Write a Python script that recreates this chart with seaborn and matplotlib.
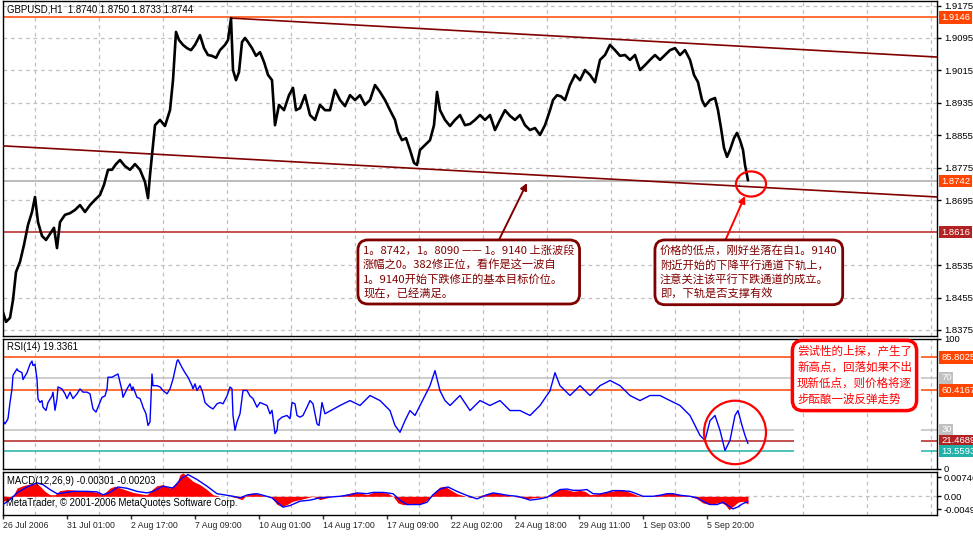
import matplotlib
matplotlib.use("Agg")
import matplotlib.pyplot as plt
from matplotlib.patches import Ellipse
import pandas as pd
import seaborn as sns

# ---------------- data ----------------
price_bar = [3,6,10,13,16,20,24,28,32,35,38,42,46,50,54,57,60,65,70,75,80,85,90,95,100,104,108,112,116,120,
             125,130,135,140,145,148,150,152,155,160,165,170,173,176,179,183,187,191,195,200,204,208,212,216,220,225,228,231,233,236,
             239,242,245,248,252,256,260,264,268,272,275,279,284,289,293,296,300,305,310,315,320,325,330,335,340,345,350,355,360,365,
             370,375,380,385,390,395,398,402,406,410,414,417,420,425,430,434,437,440,445,450,455,460,465,470,475,480,485,490,495,500,
             505,510,515,520,525,530,535,540,545,550,553,557,561,565,570,575,580,585,590,595,600,605,610,615,620,625,630,635,640,645,
             650,655,660,665,670,675,680,685,690,694,698,702,705,710,715,718,721,724,727,730,734,737,740,743,745,747,748]
price_close = [1.8419,1.8395,1.8405,1.8449,1.8518,1.8543,1.8585,1.8634,1.8666,1.8703,
               1.8641,1.8607,1.8597,1.8612,1.8627,1.8577,1.8641,1.8659,1.8663,1.8671,
               1.8683,1.8666,1.8683,1.8696,1.8708,1.8733,1.8770,1.8770,1.8784,1.8794,
               1.8779,1.8770,1.8784,1.8770,1.8740,1.8700,1.8757,1.8807,1.8880,1.8893,
               1.8878,1.8917,1.8991,1.9110,1.9090,1.9078,1.9070,1.9065,1.9078,1.9102,
               1.9070,1.9053,1.9051,1.9046,1.9065,1.9078,1.9090,1.9144,1.9016,1.8991,
               1.9011,1.9085,1.9095,1.9085,1.9070,1.9051,1.9060,1.9036,1.9004,1.8991,
               1.8880,1.8930,1.8917,1.8954,1.8972,1.8917,1.8922,1.8954,1.8905,1.8893,
               1.8930,1.8917,1.8917,1.8967,1.8942,1.8927,1.8954,1.8942,1.8954,1.8930,
               1.8942,1.8979,1.8962,1.8942,1.8917,1.8893,1.8863,1.8843,1.8848,1.8819,
               1.8787,1.8782,1.8819,1.8831,1.8843,1.8880,1.8962,1.8917,1.8893,1.8878,
               1.8893,1.8905,1.8880,1.8883,1.8893,1.8905,1.8893,1.8905,1.8868,1.8893,
               1.8917,1.8903,1.8893,1.8905,1.8880,1.8868,1.8873,1.8856,1.8880,1.8917,
               1.8942,1.8954,1.8951,1.8942,1.8979,1.9004,1.8991,1.9016,1.9004,1.8986,
               1.9041,1.9053,1.9078,1.9065,1.9051,1.9053,1.9041,1.9053,1.9016,1.9028,
               1.9041,1.9053,1.9041,1.9053,1.9065,1.9070,1.9053,1.9065,1.9041,1.9004,
               1.8986,1.8942,1.8927,1.8942,1.8947,1.8917,1.8873,1.8824,1.8802,1.8819,
               1.8848,1.8861,1.8843,1.8819,1.8782,1.8757,1.8744]

rsi_bar = [3,5,8,10,12,13,17,18,22,23,27,30,32,33,35,37,38,40,42,43,46,48,52,53,55,57,58,62,65,67,
           70,73,77,80,83,87,90,93,96,98,102,105,107,108,112,115,118,120,122,123,127,130,132,133,137,140,142,143,146,148,
           150,152,153,157,160,163,167,170,173,177,178,182,185,188,192,193,195,197,200,202,203,205,208,210,213,217,220,223,227,230,
           232,233,235,237,240,243,247,250,253,257,260,263,267,270,272,275,277,278,282,287,290,292,295,297,300,303,307,310,313,317,
           319,322,325,328,340,350,360,370,380,390,395,400,405,410,415,420,430,435,440,445,450,460,470,480,
           490,500,510,520,530,540,550,555,560,570,580,590,600,610,620,630,640,650,660,670,
           680,690,695,700,705,710,715,720,725,730,735,738,742,745,748]
rsi_value = [37,34.5,38.5,51,61.5,72,77,75.6,74,68.7,74,80.5,83,79.5,80.5,69,53.8,51,52.5,47.4,
             44.9,51,56,59,45,54,63,61.5,57.7,54,59,54,57.7,61.5,59,59,57.7,46,43.6,47.4,
             55,56,61.5,70.5,70.5,71.8,73,66.7,60.3,55,61.5,65.4,60.3,63,55,54,50,47.4,42.3,33.3,
             36,73,64,64,63,60.3,57.7,61.5,69,83,84,78,74,70.5,64,61.5,65.4,60.3,64,60.3,
             57.7,51,48.7,47.4,46,50,51,50,56,63,61.5,41,29.5,36,42.3,60.3,60.3,56,54,47.4,
             51,50,48.7,42.3,45,27,29.5,37,39.7,41,38.5,51,50,41,39.7,41,47.4,52.5,50,34.5,
             33.3,51,42.3,43.6,48.7,52.5,48.7,56.4,52.5,44.8,33.3,28,37,44.8,41,48.7,64,75.6,60,52.5,48.7,56.4,44.8,52.5,
             48.7,52.5,44.8,44.8,41,48.7,60,74,64,56.4,64,56.4,64,68,64,56.4,52.5,56.4,56.4,52.5,
             48.7,41,33.3,25.6,21.8,37,41,29.5,14,21.8,41,44.8,33.3,25.6,19.3]

macd_bar = [3,8,13,17,23,30,37,40,45,50,55,60,67,77,87,97,103,110,115,120,127,133,140,147,152,157,163,170,177,180,
            183,188,193,200,207,213,220,230,237,242,247,253,260,267,272,277,282,287,293,300,307,313,320,327,333,340,347,353,360,367,
            373,380,387,393,398,403,413,423,430,435,440,445,450,457,463,470,477,487,493,500,507,513,520,527,533,540,547,553,560,567,
            573,580,585,590,597,603,610,617,623,630,637,643,650,657,663,670,677,683,690,697,703,710,715,720,725,729,733,738,743,748]
macd_main = [-0.0019,-0.0015,0.0,0.0032,0.0041,0.0048,0.0049,0.0039,0.0019,0.0006,
             0.0006,0.0022,0.0026,0.0023,0.0022,0.0015,0.0006,0.0032,0.0039,0.0032,
             0.0023,0.0015,0.0010,0.0006,0.0026,0.0041,0.0045,0.0032,0.0052,0.0084,
             0.0090,0.0075,0.0058,0.0045,0.0026,0.0006,0.0,0.0,-0.0006,-0.0013,
             0.0006,0.0013,0.0006,0.0,-0.0006,-0.0032,-0.0039,-0.0032,-0.0019,-0.0013,
             -0.0006,0.0,-0.0013,-0.0006,0.0,0.0,0.0009,0.0015,0.0013,0.0006,
             0.0015,0.0015,0.0013,0.0,-0.0026,-0.0032,-0.0032,-0.0026,-0.0006,0.0019,
             0.0036,0.0039,0.0026,0.0010,0.0003,-0.0004,0.0,0.0010,0.0015,0.0010,
             0.0004,0.0,-0.0004,-0.0010,-0.0006,-0.0004,0.0,0.0015,0.0028,0.0026,
             0.0019,0.0023,0.0019,0.0006,0.0009,0.0013,0.0019,0.0023,0.0026,0.0015,
             0.0004,0.0,0.0,0.0004,0.0009,0.0013,0.0009,0.0004,0.0,-0.0010,
             -0.0026,-0.0032,-0.0028,-0.0023,-0.0032,-0.0052,-0.0039,-0.0023,-0.0019,-0.0030]

signal_bar = [3,10,17,27,37,43,50,57,63,73,87,97,103,110,118,127,137,147,153,163,
              173,182,188,197,207,217,227,233,240,248,257,263,272,278,283,290,300,310,320,330,
              340,350,357,367,373,383,393,400,407,420,427,433,440,448,457,467,477,487,493,500,
              507,517,523,530,540,547,553,560,567,573,580,587,593,600,607,613,620,630,637,643,
              653,660,667,673,680,690,697,703,710,717,723,728,733,738,743,748]
signal_value = [-0.0032,-0.0013,0.0013,0.0036,0.0052,0.0045,0.0026,0.0010,0.0013,0.0019,
                0.0019,0.0017,0.0006,0.0015,0.0036,0.0031,0.0019,0.0013,0.0019,0.0039,
                0.0032,0.0071,0.0084,0.0065,0.0039,0.0010,0.0004,0.0,-0.0006,0.0006,
                0.0010,0.0004,-0.0006,-0.0026,-0.0042,-0.0036,-0.0019,-0.0015,-0.0006,-0.0003,
                0.0,0.0006,0.0013,0.0010,0.0015,0.0015,0.0010,-0.0015,-0.0032,-0.0032,
                -0.0023,0.0006,0.0028,0.0036,0.0019,0.0003,-0.0010,0.0006,0.0013,0.0009,
                0.0004,0.0,-0.0006,-0.0015,-0.0010,-0.0004,0.0010,0.0026,0.0028,0.0023,
                0.0023,0.0026,0.0010,0.0009,0.0015,0.0022,0.0022,0.0019,0.0009,0.0,
                0.0,0.0004,0.0010,0.0010,0.0004,0.0,-0.0006,-0.0019,-0.0032,-0.0032,
                -0.0023,-0.0036,-0.0049,-0.0041,-0.0028,-0.0021]

time_pos = [3,67,131,195,259,323,387,451,515,579,643,707]
time_labels = ["26 Jul 2006","31 Jul 01:00","2 Aug 17:00","7 Aug 09:00","10 Aug 01:00","14 Aug 17:00",
               "17 Aug 09:00","22 Aug 02:00","24 Aug 18:00","29 Aug 11:00","1 Sep 03:00","5 Sep 20:00"]
grid_x = [35,99,163,227,291,355,419,483,547,611,675,739,803,867,931]

price_ticks = [1.9175,1.9095,1.9015,1.8935,1.8855,1.8775,1.8695,1.8535,1.8455,1.8375]
price_levels = [1.9146, 1.8742, 1.8616]
price_level_colors = ['#ff4500', '#a8a8a8', '#b22222']
price_level_box = ['#ff4500', '#ff4500', '#b22222']
channel_upper_x = [231, 937]
channel_upper_y = [1.9144, 1.9048]
channel_lower_x = [3, 937]
channel_lower_y = [1.8829, 1.8703]

rsi_levels = [85.8025, 70, 60.4167, 30, 21.4689, 13.5593]
rsi_level_text = ['85.8025', '70', '60.4167', '30', '21.4689', '13.5593']
rsi_level_colors = ['#ff4500', '#c0c0c0', '#ff4500', '#c0c0c0', '#b22222', '#20b2aa']

macd_ticks = [0.00746, 0.0, -0.00493]
macd_tick_text = ['0.00746', '0.00', '-0.00493']

header_main = "GBPUSD,H1  1.8740 1.8750 1.8733 1.8744"
header_rsi = "RSI(14) 19.3361"
header_macd = "MACD(12,26,9) -0.00301 -0.00203"
copyright_txt = "MetaTrader, © 2001-2006 MetaQuotes Software Corp."

note1 = ("1。8742，1。8090 —— 1。9140 上涨波段\n涨幅之0。382修正位，看作是这一波自\n"
         "1。9140开始下跌修正的基本目标价位。\n现在，已经满足。")
note2 = ("价格的低点，刚好坐落在自1。9140\n附近开始的下降平行通道下轨上，\n"
         "注意关注该平行下跌通道的成立。\n即，下轨是否支撑有效")
note3 = "尝试性的上探，产生了\n新高点，回落如果不出\n现新低点，则价格将逐\n步酝酿一波反弹走势"

# ---------------- drawing ----------------
sns.set_style("white")
plt.rcParams['font.family'] = ['Liberation Sans', 'DejaVu Sans']
CJK = ['Noto Sans CJK SC', 'DejaVu Sans']

W, H = 973, 551
fig = plt.figure(figsize=(W / 100, H / 100), dpi=100)
fig.patch.set_facecolor('white')


def rect(x0, y0, x1, y1):
    return [x0 / W, 1 - y1 / H, (x1 - x0) / W, (y1 - y0) / H]


def fp(x, y):
    return x / W, 1 - y / H


ax1 = fig.add_axes(rect(3, 1, 937, 336))
ax2 = fig.add_axes(rect(3, 339, 937, 469))
ax3 = fig.add_axes(rect(3, 472, 937, 515))

GRID = '#c0c0c0'
DASH = (0, (3, 3))
LBL = 6.8

# main price panel
dfp = pd.DataFrame({'bar': price_bar, 'close': price_close})
sns.lineplot(data=dfp, x='bar', y='close', ax=ax1, color='black', lw=1.9, zorder=4)
sns.lineplot(x=channel_upper_x, y=channel_upper_y, ax=ax1, color='#800000', lw=1.2, zorder=3)
sns.lineplot(x=channel_lower_x, y=channel_lower_y, ax=ax1, color='#800000', lw=1.2, zorder=3)
for lv, c in zip(price_levels, price_level_colors):
    ax1.axhline(lv, color=c, lw=1.1, zorder=2)
for p in price_ticks:
    ax1.axhline(p, color=GRID, lw=0.9, ls=DASH, zorder=0)
ax1.set_ylim(1.83602, 1.91862)
ax1.set_yticks(price_ticks)
ax1.set_yticklabels([f"{p:.4f}" for p in price_ticks])

# RSI panel
dfr = pd.DataFrame({'bar': rsi_bar, 'rsi': rsi_value})
for lv, c in zip(rsi_levels, rsi_level_colors):
    ax2.hlines(lv, 3, 794, color=c, lw=1.1, zorder=2)
    ax2.hlines(lv, 921, 937, color=c, lw=1.1, zorder=2)
sns.lineplot(data=dfr, x='bar', y='rsi', ax=ax2, color='#0000ff', lw=1.0, zorder=4)
ax2.set_ylim(-0.3, 100)
ax2.set_yticks([100, 0])
ax2.set_yticklabels(['100', '0'])
labs = ax2.get_yticklabels()
labs[0].set_va('top')
labs[1].set_va('bottom')

# MACD panel
ax3.axhline(0, color=GRID, lw=0.9, ls=DASH, zorder=0)
ax3.fill_between(macd_bar, 0, macd_main, color='#ff0000', lw=0, zorder=2)
dfs = pd.DataFrame({'bar': signal_bar, 'sig': signal_value})
sns.lineplot(data=dfs, x='bar', y='sig', ax=ax3, color='#0000ff', lw=1.0, zorder=3)
ax3.set_ylim(-0.00725, 0.0094)
ax3.set_yticks(macd_ticks)
ax3.set_yticklabels(macd_tick_text)

for ax in (ax1, ax2, ax3):
    ax.set_xlim(3, 937)
    ax.set_facecolor('white')
    for s in ax.spines.values():
        s.set_color('black')
        s.set_linewidth(1.0)
    for gx in grid_x:
        ax.axvline(gx, color=GRID, lw=0.9, ls=DASH, zorder=0)
    ax.yaxis.tick_right()
    ax.tick_params(axis='y', direction='out', length=3, width=1, labelsize=LBL, pad=2,
                   colors='black', left=False, right=True)
    ax.set_xlabel('')
    ax.set_ylabel('')
    ax.tick_params(axis='x', bottom=False, labelbottom=False)

ax3.set_xticks(time_pos)
ax3.set_xticklabels(time_labels, ha='left', fontsize=6.3)
ax3.tick_params(axis='x', bottom=True, labelbottom=True, direction='out', length=3, width=1, pad=1.5)


def tag(ax, y, txt, fc, tc='white'):
    ax.annotate(txt, xy=(1, y), xycoords=ax.get_yaxis_transform(), xytext=(3, 0),
                textcoords='offset points', ha='left', va='center', fontsize=LBL, color=tc,
                bbox=dict(boxstyle='square,pad=0.18', fc=fc, ec='none'), annotation_clip=False, zorder=10)


for lv, c in zip(price_levels, price_level_box):
    tag(ax1, lv, f"{lv:.4f}", c)
for lv, t, c in zip(rsi_levels, rsi_level_text, rsi_level_colors):
    tag(ax2, lv, t, c)

# headers
fig.text(*fp(7, 10), header_main, fontsize=6.9, va='center', ha='left', color='black')
fig.text(*fp(7, 347), header_rsi, fontsize=6.9, va='center', ha='left', color='black')
fig.text(*fp(7, 481), header_macd, fontsize=6.9, va='center', ha='left', color='black')
fig.text(*fp(6, 503), copyright_txt, fontsize=6.9, va='center', ha='left', color='black')

# ellipses
ax1.add_patch(Ellipse((751, 1.8735), width=30, height=0.0062, fill=False, ec='#ff0000', lw=1.6, zorder=6))
ax2.add_patch(Ellipse((735, 27.9), width=62, height=49, fill=False, ec='#ff0000', lw=1.6, zorder=6))

# arrows
ax1.annotate('', xy=(527, 1.87375), xytext=(494, 1.85722),
             arrowprops=dict(arrowstyle='-|>', color='#800000', lw=1.4, mutation_scale=10,
                             shrinkA=0, shrinkB=0), zorder=6)
ax1.annotate('', xy=(745, 1.87054), xytext=(721, 1.85722),
             arrowprops=dict(arrowstyle='-|>', color='#ff0000', lw=1.4, mutation_scale=10,
                             shrinkA=0, shrinkB=0), zorder=6)

# notes
fs_note = 8.1
fig.text(*fp(363, 245), note1, family=CJK, fontsize=fs_note, color='#800000', ha='left', va='top',
         linespacing=1.4,
         bbox=dict(boxstyle='round,pad=0.45,rounding_size=0.9', fc='white', ec='#800000', lw=2))
fig.text(*fp(660, 245), note2, family=CJK, fontsize=fs_note, color='#800000', ha='left', va='top',
         linespacing=1.4,
         bbox=dict(boxstyle='round,pad=0.45,rounding_size=0.9', fc='white', ec='#800000', lw=2))
fig.text(*fp(797, 345), note3, family=CJK, fontsize=8.3, color='#ff0000', ha='left', va='top',
         linespacing=1.3,
         bbox=dict(boxstyle='round,pad=0.4,rounding_size=0.9', fc='white', ec='#ff0000', lw=2.5))

fig.savefig('out.png', dpi=100, facecolor='white')
